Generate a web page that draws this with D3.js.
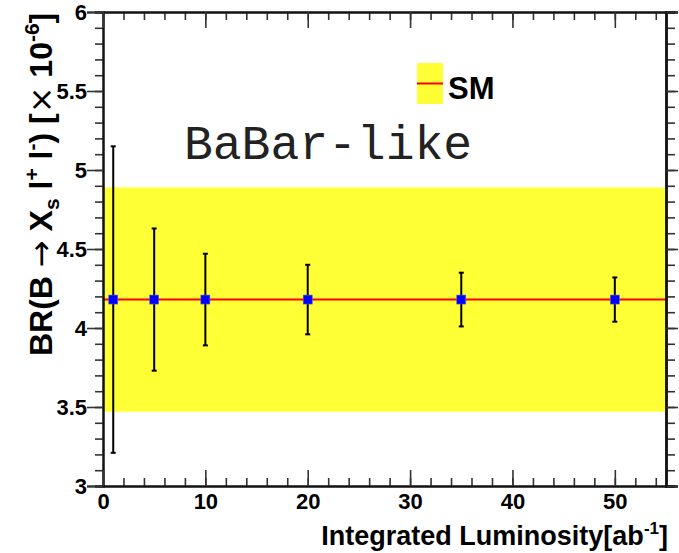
<!DOCTYPE html>
<html>
<head>
<meta charset="utf-8">
<script src="https://cdn.jsdelivr.net/npm/d3@7"></script>
<style>
  html, body { margin: 0; padding: 0; background: #fff; }
  svg { display: block; }
</style>
</head>
<body>
<div id="chart"></div>
<script>
// Projected BR(B -> Xs l+ l-) measurement vs. integrated luminosity
const lumi = [1, 5, 10, 20, 35, 50];                 // ab^-1
const brValue = [4.18, 4.18, 4.18, 4.18, 4.18, 4.18]; // x 10^-6
const brError = [0.97, 0.45, 0.29, 0.22, 0.17, 0.14];
const smCentral = 4.18;
const smBand = [3.47, 4.89];
const xMajorTicks = [0, 10, 20, 30, 40, 50];
const xMinorTicks = d3.range(0, 55.01, 2);
const yMajorTicks = [3, 3.5, 4, 4.5, 5, 5.5, 6];
const yMinorTicks = d3.range(3, 6.001, 0.1).map(v => +v.toFixed(1));
const xDomain = [0, 55];
const yDomain = [3, 6];
const legendLabel = "SM";
const tagText = "BaBar-like";

const W = 679, H = 553;
const frame = { left: 103, right: 666, top: 12, bottom: 486 };
const boldFont = "'Liberation Sans', Arial, Helvetica, sans-serif";
const symbolFont = "'DejaVu Sans', sans-serif";
const monoFont = "'Courier New', Courier, 'Nimbus Mono PS', 'Nimbus Mono L', FreeMono, 'Liberation Mono', monospace";

const svg = d3.select("#chart").append("svg")
  .attr("width", W).attr("height", H);

const x = d3.scaleLinear().domain(xDomain).range([frame.left, frame.right]);
const y = d3.scaleLinear().domain(yDomain).range([frame.bottom, frame.top]);

// SM band and central value
svg.append("rect")
  .attr("x", x(xDomain[0])).attr("width", x(xDomain[1]) - x(xDomain[0]))
  .attr("y", y(smBand[1])).attr("height", y(smBand[0]) - y(smBand[1]))
  .attr("fill", "#ffff36");
svg.append("line")
  .attr("x1", x(xDomain[0])).attr("x2", x(xDomain[1]))
  .attr("y1", y(smCentral)).attr("y2", y(smCentral))
  .attr("stroke", "#ff0000").attr("stroke-width", 2);

// Axes
function styleAxis(g, width) {
  g.select(".domain").attr("stroke", "#111").attr("stroke-width", width);
  g.selectAll(".tick line").attr("stroke", "#333").attr("stroke-width", 1.6);
  g.selectAll(".tick text")
    .attr("font-family", boldFont).attr("font-weight", "bold")
    .attr("fill", "#000");
}

// left axis: outward ticks with labels
const yMinorG = svg.append("g").attr("transform", `translate(${frame.left},0)`)
  .call(d3.axisLeft(y).tickValues(yMinorTicks).tickSize(8).tickFormat(""));
styleAxis(yMinorG, 2);
const yMajorG = svg.append("g").attr("transform", `translate(${frame.left},0)`)
  .call(d3.axisLeft(y).tickValues(yMajorTicks).tickSize(16).tickPadding(0)
    .tickFormat(d => String(d)));
styleAxis(yMajorG, 2);
yMajorG.selectAll(".tick text").attr("font-size", 22).attr("dy", "0.36em");

// right axis: outward ticks, no labels
const yRMinor = svg.append("g").attr("transform", `translate(${frame.right},0)`)
  .call(d3.axisRight(y).tickValues(yMinorTicks).tickSize(9).tickFormat(""));
styleAxis(yRMinor, 2.4);
const yRMajor = svg.append("g").attr("transform", `translate(${frame.right},0)`)
  .call(d3.axisRight(y).tickValues(yMajorTicks).tickSize(12).tickFormat(""));
styleAxis(yRMajor, 2.4);

// bottom axis: ticks pointing into the frame
const xMinorG = svg.append("g").attr("transform", `translate(0,${frame.bottom})`)
  .call(d3.axisBottom(x).tickValues(xMinorTicks).tickSizeInner(-8).tickSizeOuter(0).tickFormat(""));
styleAxis(xMinorG, 2);
const xMajorG = svg.append("g").attr("transform", `translate(0,${frame.bottom})`)
  .call(d3.axisBottom(x).tickValues(xMajorTicks).tickSizeInner(-16).tickSizeOuter(0)
    .tickPadding(7).tickFormat(d => String(d)));
styleAxis(xMajorG, 2);
xMajorG.selectAll(".tick text").attr("font-size", 22);

// top axis: ticks pointing into the frame
const xTopMinor = svg.append("g").attr("transform", `translate(0,${frame.top})`)
  .call(d3.axisTop(x).tickValues(xMinorTicks).tickSizeInner(-8).tickSizeOuter(0).tickFormat(""));
styleAxis(xTopMinor, 2);
const xTopMajor = svg.append("g").attr("transform", `translate(0,${frame.top})`)
  .call(d3.axisTop(x).tickValues(xMajorTicks).tickSizeInner(-16).tickSizeOuter(0).tickFormat(""));
styleAxis(xTopMajor, 2);

// Error bars and markers
const pts = lumi.map((l, i) => ({ l, v: brValue[i], e: brError[i] }));
const bars = svg.append("g").selectAll("g").data(pts).join("g");
bars.append("line")
  .attr("x1", d => x(d.l)).attr("x2", d => x(d.l))
  .attr("y1", d => y(d.v + d.e)).attr("y2", d => y(d.v - d.e))
  .attr("stroke", "#000").attr("stroke-width", 2);
[1, -1].forEach(s => {
  bars.append("line")
    .attr("x1", d => x(d.l) - 2.5).attr("x2", d => x(d.l) + 2.5)
    .attr("y1", d => y(d.v + s * d.e)).attr("y2", d => y(d.v + s * d.e))
    .attr("stroke", "#000").attr("stroke-width", 2);
});
bars.append("rect")
  .attr("x", d => x(d.l) - 4.5).attr("y", d => y(d.v) - 4.5)
  .attr("width", 9).attr("height", 9)
  .attr("fill", "#0000ff").attr("stroke", "#5a5ad8").attr("stroke-width", 0.6);

// Legend
const leg = { x: 417, y: 63, w: 26, h: 41 };
svg.append("rect").attr("x", leg.x).attr("y", leg.y)
  .attr("width", leg.w).attr("height", leg.h).attr("fill", "#ffff36");
svg.append("line").attr("x1", leg.x).attr("x2", leg.x + leg.w)
  .attr("y1", leg.y + leg.h / 2).attr("y2", leg.y + leg.h / 2)
  .attr("stroke", "#ff0000").attr("stroke-width", 2);
svg.append("text").attr("x", 448).attr("y", 99)
  .attr("font-family", boldFont).attr("font-weight", "bold")
  .attr("font-size", 31).text(legendLabel);

// Experiment tag
svg.append("text").attr("x", 184).attr("y", 159)
  .attr("font-family", monoFont)
  .attr("font-size", 48).attr("fill", "#222").text(tagText);

// X axis title
const xt = svg.append("text").attr("x", 668).attr("y", 545)
  .attr("text-anchor", "end")
  .attr("font-family", boldFont).attr("font-weight", "bold").attr("font-size", 27);
xt.append("tspan").text("Integrated Luminosity[ab");
xt.append("tspan").attr("font-size", 17).attr("dy", -11).text("-1");
xt.append("tspan").attr("dy", 11).text("]");

// Y axis title
const yt = svg.append("text")
  .attr("transform", "translate(52,356) rotate(-90)")
  .attr("text-anchor", "start")
  .attr("font-family", boldFont).attr("font-weight", "bold").attr("font-size", 32);
yt.append("tspan").text("BR(B ");
yt.append("tspan").attr("font-family", symbolFont).attr("font-weight", "normal").text("\u2192");
yt.append("tspan").text(" X");
yt.append("tspan").attr("font-size", 21).attr("dy", 7).text("s");
yt.append("tspan").attr("dy", -7).text(" l");
yt.append("tspan").attr("font-size", 21).attr("dy", -13).text("+");
yt.append("tspan").attr("dy", 13).text(" l");
yt.append("tspan").attr("font-size", 21).attr("dy", -13).text("-");
yt.append("tspan").attr("dy", 13).text(") [");
yt.append("tspan").attr("font-family", symbolFont).attr("font-weight", "normal").text("\u00d7");
yt.append("tspan").text(" 10");
yt.append("tspan").attr("font-size", 21).attr("dy", -13).text("-6");
yt.append("tspan").attr("dy", 13).text("]");
</script>
</body>
</html>
